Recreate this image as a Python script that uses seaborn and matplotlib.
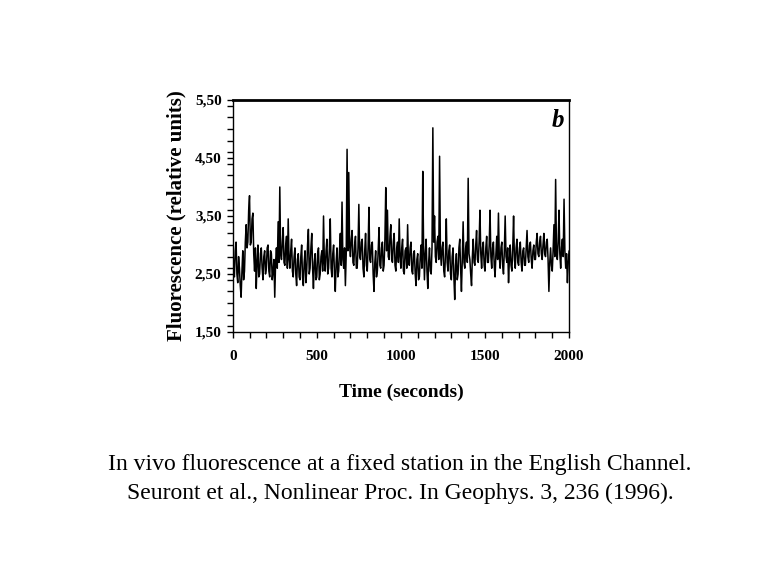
import numpy as np
import pandas as pd
import seaborn as sns
import matplotlib.pyplot as plt
from matplotlib.ticker import MultipleLocator, FuncFormatter

# fluorescence, one value every 5 s
time_s = np.arange(0, 2001, 5)
fluo = [
    3.20, 2.60, 2.45, 2.90, 3.05, 2.50, 2.35, 2.80, 2.60, 2.30, 2.10, 2.55, 2.90, 2.40, 2.55, 3.05, 3.35, 2.95, 3.05, 3.60,
    3.85, 3.00, 3.05, 3.45, 3.55, 2.85, 2.55, 2.95, 2.25, 2.70, 3.00, 2.45, 2.50, 2.85, 2.95, 2.60, 2.40, 2.80, 2.90, 2.50,
    2.60, 2.95, 3.00, 2.55, 2.45, 2.90, 2.85, 2.40, 2.55, 2.75, 2.10, 2.70, 2.95, 2.60, 3.40, 2.70, 4.00, 2.85, 2.75, 3.05,
    3.30, 2.70, 2.65, 3.00, 3.15, 2.60, 3.45, 2.75, 2.60, 2.90, 3.10, 2.55, 2.45, 2.80, 2.95, 2.50, 2.30, 2.75, 2.85, 2.45,
    2.40, 2.80, 3.00, 2.45, 2.30, 2.70, 2.90, 2.35, 2.55, 3.00, 3.27, 2.50, 2.60, 2.95, 3.20, 2.60, 2.25, 2.70, 2.85, 2.40,
    2.45, 2.85, 2.95, 2.40, 2.50, 2.80, 2.90, 2.55, 3.50, 2.70, 2.55, 2.90, 3.10, 2.50, 2.60, 2.95, 3.45, 2.60, 2.45, 2.85,
    3.00, 2.50, 2.20, 2.70, 2.95, 2.45, 2.55, 2.90, 3.20, 2.65, 3.74, 2.75, 2.60, 2.95, 2.30, 2.85, 4.65, 2.90, 4.25, 3.00,
    2.80, 3.10, 3.25, 2.70, 2.65, 3.00, 3.15, 2.60, 2.60, 2.95, 3.70, 2.80, 2.75, 3.05, 3.10, 2.60, 2.45, 2.90, 3.20, 2.65,
    2.55, 2.95, 3.65, 2.75, 2.70, 3.00, 3.05, 2.50, 2.20, 2.70, 2.90, 2.45, 2.55, 2.90, 3.30, 2.65, 2.60, 2.95, 3.05, 2.55,
    2.65, 3.10, 3.99, 2.90, 3.60, 2.80, 2.75, 3.15, 3.35, 2.75, 2.70, 3.05, 3.20, 2.65, 2.55, 2.95, 3.05, 2.70, 3.45, 2.80,
    2.60, 2.95, 3.10, 2.55, 2.50, 2.90, 2.95, 2.60, 3.35, 2.70, 2.65, 2.95, 3.05, 2.55, 2.50, 2.85, 2.90, 2.50, 2.30, 2.75,
    2.85, 2.40, 2.45, 2.80, 3.00, 2.60, 4.27, 2.95, 2.40, 2.85, 3.10, 2.55, 2.25, 2.70, 2.95, 2.55, 2.50, 2.95, 5.02, 3.05,
    3.50, 2.80, 2.70, 3.05, 3.15, 2.75, 4.53, 2.90, 2.65, 2.95, 3.05, 2.55, 2.45, 2.85, 3.45, 2.70, 2.55, 2.90, 3.00, 2.50,
    2.40, 2.80, 2.95, 2.45, 2.06, 2.65, 2.85, 2.40, 2.50, 2.95, 3.10, 2.60, 2.20, 2.75, 3.40, 2.70, 2.60, 2.95, 3.05, 2.70,
    4.15, 2.85, 2.75, 2.50, 2.30, 2.80, 3.10, 2.70, 2.65, 3.00, 3.25, 2.75, 2.70, 3.05, 3.60, 2.85, 2.60, 2.95, 3.05, 2.65,
    2.55, 2.95, 3.15, 2.70, 2.70, 3.00, 3.60, 2.80, 2.60, 2.95, 3.05, 2.65, 2.45, 2.85, 3.15, 2.75, 3.55, 2.80, 2.60, 2.95,
    3.05, 2.65, 2.50, 2.90, 3.50, 2.80, 2.70, 2.95, 2.35, 2.75, 3.00, 2.65, 2.55, 2.95, 3.50, 2.75, 2.60, 2.95, 3.10, 2.70,
    2.65, 2.95, 3.05, 2.70, 2.55, 2.90, 2.95, 2.65, 2.65, 2.95, 3.25, 2.80, 2.70, 3.00, 3.05, 2.75, 2.60, 2.90, 3.00, 2.75,
    2.75, 3.05, 3.20, 2.85, 2.80, 3.05, 3.15, 2.85, 2.75, 3.00, 3.20, 2.85, 2.80, 3.05, 3.10, 2.75, 2.20, 2.70, 2.95, 2.65,
    2.55, 2.90, 3.35, 2.80, 4.13, 2.90, 2.75, 3.05, 3.60, 2.85, 2.60, 2.95, 3.10, 2.80, 3.79, 2.90, 2.60, 2.85, 2.35, 2.70,
    2.90,
]
y_ticks = [1.5, 2.5, 3.5, 4.5, 5.5]

df = pd.DataFrame({"Time": time_s, "Fluorescence": fluo})

sns.set_style("ticks")
plt.rcParams["font.family"] = ["Liberation Serif", "DejaVu Serif"]
plt.rcParams["text.color"] = "black"
plt.rcParams["axes.labelcolor"] = "black"
plt.rcParams["xtick.color"] = "black"
plt.rcParams["ytick.color"] = "black"

fig = plt.figure(figsize=(7.68, 5.76), dpi=100)
ax = fig.add_axes([0.303, 0.4236, 0.438, 0.4028])

sns.lineplot(data=df, x="Time", y="Fluorescence", color="black",
             linewidth=1.1, ax=ax)

ax.set_xlim(0, 2000)
ax.set_ylim(1.5, 5.5)
ax.xaxis.set_major_locator(MultipleLocator(500))
ax.xaxis.set_minor_locator(MultipleLocator(100))
ax.set_yticks(y_ticks)
ax.yaxis.set_minor_locator(MultipleLocator(0.2))
ax.yaxis.set_major_formatter(FuncFormatter(lambda v, p: f"{v:.2f}".replace(".", ",")))
ax.tick_params(which="both", direction="out", length=4, width=1, color="black")
ax.tick_params(axis="x", labelsize=11, pad=9)
ax.tick_params(axis="y", labelsize=11, pad=4)
for lab in ax.get_xticklabels() + ax.get_yticklabels():
    lab.set_fontweight("bold")
for s in ax.spines.values():
    s.set_color("black")
    s.set_linewidth(1)
ax.spines["top"].set_linewidth(2)

ax.set_xlabel("Time (seconds)", fontsize=14, fontweight="bold", labelpad=15)
ax.set_ylabel("Fluorescence (relative units)", fontsize=15, fontweight="bold", labelpad=6)
ax.text(0.985, 0.91, "b", transform=ax.transAxes, fontsize=18,
        fontweight="bold", fontstyle="italic", ha="right", va="center")

fig.text(0.521, 0.193, "In vivo fluorescence at a fixed station in the English Channel.",
         ha="center", va="center", fontsize=17)
fig.text(0.521, 0.144, "Seuront et al., Nonlinear Proc. In Geophys. 3, 236 (1996).",
         ha="center", va="center", fontsize=17)

plt.savefig("out.png", dpi=100)
